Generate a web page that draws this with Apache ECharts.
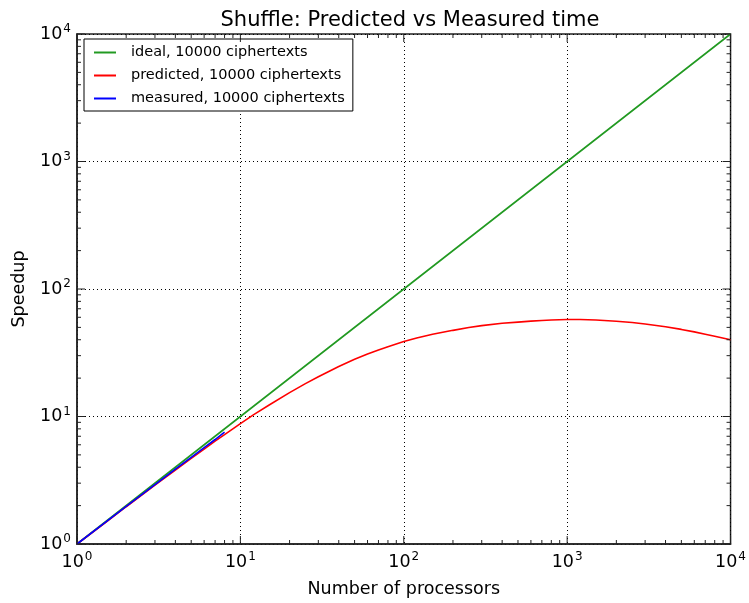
<!DOCTYPE html>
<html>
<head>
<meta charset="utf-8">
<script src="https://cdn.jsdelivr.net/npm/echarts@6/dist/echarts.min.js"></script>
<style>
  html, body { margin: 0; padding: 0; background: #fff; }
  #chart { width: 749px; height: 603px; }
</style>
</head>
<body>
<div id="chart"></div>
<script>
// Processor counts and speedups for the shuffle benchmark (log-log)
const idealProcs = [1, 10, 100, 1000, 10000];
const idealSpeedup = [1, 10, 100, 1000, 10000];

const predictedProcs = [1, 1.5, 2, 3, 4, 5, 6, 7, 8, 10, 12, 15, 20, 25, 30, 40, 50, 60, 70, 80, 100,
  120, 150, 200, 250, 300, 400, 500, 600, 700, 800, 1000, 1200, 1500, 2000, 2500, 3000, 4000, 5000,
  6000, 7000, 8000, 10000];
const predictedSpeedup = [1, 1.48, 1.96, 2.9, 3.8, 4.7, 5.55, 6.4, 7.2, 8.8, 10.3, 12.3, 15.4, 18.1, 20.5,
  24.7, 28.1, 30.9, 33.3, 35.3, 38.7, 41.3, 44.2, 47.4, 49.9, 51.6, 53.8, 55.0, 56.0, 56.6, 57.1,
  57.6, 57.6, 57.1, 55.9, 54.6, 53.2, 50.6, 48.2, 46.1, 44.2, 42.6, 40];

const measuredProcs = [1, 2, 3, 4, 5, 6, 7, 8];
const measuredSpeedup = [1, 1.97, 2.92, 3.86, 4.78, 5.7, 6.6, 7.55];

const seriesNames = ['ideal, 10000 ciphertexts', 'predicted, 10000 ciphertexts', 'measured, 10000 ciphertexts'];
const axisMin = 1;
const axisMax = 10000;

function pairs(xs, ys) {
  return xs.map((x, i) => [x, ys[i]]);
}

// tick values: majors at each decade, minors at 2..9 within each decade
const tickValues = [];
for (let d = axisMin; d <= axisMax; d *= 10) {
  tickValues.push([d, 1]);
  if (d < axisMax) {
    for (let k = 2; k <= 9; k++) tickValues.push([d * k, 0]);
  }
}

function expLabel(v) {
  const e = Math.round(Math.log10(v));
  return '{b|10}{s|' + e + '}';
}
const richLabel = {
  b: { fontSize: 17.5, fontFamily: 'DejaVu Sans', color: '#000' },
  s: { fontSize: 12, fontFamily: 'DejaVu Sans', color: '#000', padding: [0, 0, 10, 1] }
};

const chart = echarts.init(document.getElementById('chart'), null, { renderer: 'canvas' });

const MAJOR = 8, MINOR = 4;
const tickStyle = { stroke: '#222', lineWidth: 1 };

chart.setOption({
  animation: false,
  backgroundColor: '#fff',
  title: {
    text: 'Shuffle: Predicted vs Measured time',
    left: 405, top: 5, textAlign: 'center',
    textStyle: { fontFamily: 'DejaVu Sans', fontSize: 21, fontWeight: 'normal', color: '#000' }
  },
  grid: {
    left: 77, right: 17, top: 34, bottom: 54,
    show: true, borderColor: '#222', borderWidth: 1.5, backgroundColor: 'transparent'
  },
  legend: {
    data: seriesNames,
    orient: 'vertical',
    left: 84, top: 39,
    padding: [5, 8, 4, 10],
    itemGap: 6,
    itemWidth: 22, itemHeight: 2,
    icon: 'rect',
    backgroundColor: '#fff',
    borderColor: '#000', borderWidth: 1, borderRadius: 0,
    textStyle: { fontFamily: 'DejaVu Sans', fontSize: 14.5, color: '#000', padding: [0, 0, 0, 10], lineHeight: 17 }
  },
  xAxis: {
    type: 'log', logBase: 10, min: axisMin, max: axisMax,
    name: 'Number of processors', nameLocation: 'middle', nameGap: 36,
    nameTextStyle: { fontFamily: 'DejaVu Sans', fontSize: 17.5, color: '#000' },
    axisLine: { show: true, lineStyle: { color: '#222', width: 1.5 } },
    axisTick: { show: false },
    axisLabel: { formatter: expLabel, rich: richLabel, margin: 7 },
    splitLine: { show: true, lineStyle: { color: '#000', type: [1, 3], width: 1 } }
  },
  yAxis: {
    type: 'log', logBase: 10, min: axisMin, max: axisMax,
    name: 'Speedup', nameLocation: 'middle', nameGap: 49, nameRotate: 90,
    nameTextStyle: { fontFamily: 'DejaVu Sans', fontSize: 17.5, color: '#000' },
    axisLine: { show: true, lineStyle: { color: '#222', width: 1.5 } },
    axisTick: { show: false },
    axisLabel: { formatter: expLabel, rich: richLabel, margin: 6 },
    splitLine: { show: true, lineStyle: { color: '#000', type: [1, 3], width: 1 } }
  },
  series: [
    {
      name: seriesNames[0], type: 'line', data: pairs(idealProcs, idealSpeedup),
      showSymbol: false, symbol: 'none', color: '#229a22',
      lineStyle: { width: 1.6, color: '#229a22' }, z: 3
    },
    {
      name: seriesNames[1], type: 'line', data: pairs(predictedProcs, predictedSpeedup),
      showSymbol: false, symbol: 'none', color: '#ff0000',
      lineStyle: { width: 1.6, color: '#ff0000' }, z: 4
    },
    {
      name: seriesNames[2], type: 'line', data: pairs(measuredProcs, measuredSpeedup),
      showSymbol: false, symbol: 'none', color: '#0000ff',
      lineStyle: { width: 1.6, color: '#0000ff' }, z: 5
    },
    {
      // x-axis ticks, inward, bottom and top
      type: 'custom', silent: true, z: 6,
      data: tickValues,
      renderItem: function (params, api) {
        const v = api.value(0);
        const len = api.value(1) ? MAJOR : MINOR;
        const b = api.coord([v, axisMin]);
        const t = api.coord([v, axisMax]);
        return {
          type: 'group',
          children: [
            { type: 'line', shape: { x1: b[0], y1: b[1], x2: b[0], y2: b[1] - len }, style: tickStyle },
            { type: 'line', shape: { x1: t[0], y1: t[1], x2: t[0], y2: t[1] + len }, style: tickStyle }
          ]
        };
      }
    },
    {
      // y-axis ticks, inward, left and right
      type: 'custom', silent: true, z: 6,
      data: tickValues,
      renderItem: function (params, api) {
        const v = api.value(0);
        const len = api.value(1) ? MAJOR : MINOR;
        const l = api.coord([axisMin, v]);
        const r = api.coord([axisMax, v]);
        return {
          type: 'group',
          children: [
            { type: 'line', shape: { x1: l[0], y1: l[1], x2: l[0] + len, y2: l[1] }, style: tickStyle },
            { type: 'line', shape: { x1: r[0], y1: r[1], x2: r[0] - len, y2: r[1] }, style: tickStyle }
          ]
        };
      }
    }
  ]
});
</script>
</body>
</html>
